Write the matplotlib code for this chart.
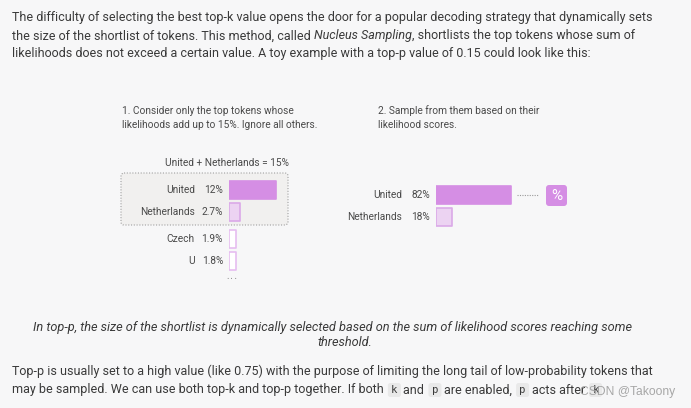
import matplotlib
matplotlib.use("Agg")
import matplotlib.pyplot as plt
from matplotlib.patches import FancyBboxPatch

W, H = 691, 408

# data
step1_tokens = ["United", "Netherlands", "Czech", "U"]
step1_probs = [12, 2.7, 1.9, 1.8]
step1_labels = ["12%", "2.7%", "1.9%", "1.8%"]
step2_tokens = ["United", "Netherlands"]
step2_probs = [82, 18]
step2_labels = ["82%", "18%"]
top_p = 15

BG = "#f7f7f8"
TEXT = "#3a3a3a"
SOFT = "#4a4a4a"
PURPLE = "#d58ee4"
LIGHT = "#ecd3f2"
EDGE = "#dba9e8"
SANS = "Roboto"
MONO = "DejaVu Sans Mono"
PANEL = "Roboto"

fig = plt.figure(figsize=(W / 100, H / 100), dpi=100)
fig.patch.set_facecolor(BG)
page = fig.add_axes([0, 0, 1, 1])
page.set_xlim(0, W)
page.set_ylim(H, 0)
page.axis("off")
renderer = fig.canvas.get_renderer()


def text_width(s, **kw):
    t = page.text(0, 0, s, **kw)
    w = t.get_window_extent(renderer).width
    t.remove()
    return w


def run_width(s, **kw):
    # measure with a sentinel so trailing spaces count
    return text_width(s + "|", **kw) - text_width("|", **kw)


def fit(s, target, **kw):
    return 10 * target / text_width(s, fontsize=10, **kw)


def draw_runs(x, y, runs, size, color=TEXT):
    for s, kind in runs:
        if kind == "code":
            cw = 15
            page.add_patch(FancyBboxPatch((x + 1, y - 7), cw - 2, 14,
                                          boxstyle="round,pad=0,rounding_size=2.5",
                                          fc="#e9e9e9", ec="none"))
            page.text(x + cw / 2, y, s, family=MONO, fontsize=size * 0.85, color=TEXT,
                      ha="center", va="center")
            x += cw + run_width(" ", family=SANS, fontsize=size) * 0.5
            continue
        style = "italic" if kind == "i" else "normal"
        page.text(x, y, s, family=SANS, style=style, fontsize=size, color=color,
                  ha="left", va="center")
        x += run_width(s, family=SANS, style=style, fontsize=size)
    return x


# top paragraph
line1 = "The difficulty of selecting the best top-k value opens the door for a popular decoding strategy that dynamically sets"
body = fit(line1, 635, family=SANS)
draw_runs(12, 18, [(line1, "n")], body)
draw_runs(12, 36, [("the size of the shortlist of tokens. This method, called ", "n"),
                   ("Nucleus Sampling", "i"),
                   (", shortlists the top tokens whose sum of", "n")], body)
draw_runs(12, 53, [("likelihoods does not exceed a certain value. A toy example with a top-p value of 0.15 could look like this:", "n")], body)

# panel headings
head = fit("likelihoods add up to 15%. Ignore all others.", 196, family=PANEL)
page.text(122, 111, "1. Consider only the top tokens whose", family=PANEL, fontsize=head, color=SOFT, va="center")
page.text(122, 125, f"likelihoods add up to {top_p}%. Ignore all others.", family=PANEL, fontsize=head, color=SOFT, va="center")
page.text(378, 111, "2. Sample from them based on their", family=PANEL, fontsize=head, color=SOFT, va="center")
page.text(378, 125, "likelihood scores.", family=PANEL, fontsize=head, color=SOFT, va="center")

lab = fit("Netherlands", 55, family=PANEL)
page.text(227, 163, f"{step1_tokens[0]} + {step1_tokens[1]} = {top_p}%", family=PANEL,
          fontsize=lab, color=SOFT, ha="center", va="center")

# dotted box around the kept tokens
page.add_patch(FancyBboxPatch((121, 173), 167, 52, boxstyle="round,pad=0,rounding_size=3",
                              fc="#f1f0ef", ec="#a0a0a0", lw=0.8, ls=(0, (1, 1.5))))

# step 1 bars
rows1 = [190, 212, 239, 261]
ax1 = fig.add_axes([229 / W, 1 - 280 / H, 70 / W, 105 / H])
ax1.set_xlim(0, 70 / 3.9)
ax1.set_ylim(280, 175)
ax1.axis("off")
fills1 = [PURPLE, LIGHT, "white", "white"]
edges1 = [PURPLE, EDGE, "#e6bdf0", "#e6bdf0"]
bars = ax1.barh(rows1, step1_probs, height=18, left=0, color=fills1, edgecolor=edges1, linewidth=1.2)
for b in bars:
    b.set_joinstyle("round")
for tok, pct, y in zip(step1_tokens, step1_labels, rows1):
    page.text(195, y, tok, family=PANEL, fontsize=lab, color=SOFT, ha="right", va="center")
    page.text(223, y, pct, family=PANEL, fontsize=lab, color=SOFT, ha="right", va="center")
page.text(232, 277, "...", family=MONO, fontsize=lab * 0.7, color="#888888", ha="center", va="center")

# step 2 bars
rows2 = [195, 217]
ax2 = fig.add_axes([436 / W, 1 - 235 / H, 100 / W, 55 / H])
ax2.set_xlim(0, 100 / 0.915)
ax2.set_ylim(235, 180)
ax2.axis("off")
bars = ax2.barh(rows2, step2_probs, height=18, left=0, color=[PURPLE, LIGHT],
                edgecolor=[PURPLE, EDGE], linewidth=1.2)
for b in bars:
    b.set_joinstyle("round")
for tok, pct, y in zip(step2_tokens, step2_labels, rows2):
    page.text(402, y, tok, family=PANEL, fontsize=lab, color=SOFT, ha="right", va="center")
    page.text(430, y, pct, family=PANEL, fontsize=lab, color=SOFT, ha="right", va="center")

page.plot([517, 538], [195, 195], ls=(0, (1, 1.2)), color="#9a9a9a", lw=0.8)
page.add_patch(FancyBboxPatch((546, 185), 21, 21, boxstyle="round,pad=0,rounding_size=3",
                              fc=PURPLE, ec="none"))
page.text(556.5, 196, "%", family=PANEL, fontsize=11, color="white", ha="center", va="center")

# caption
cap1 = "In top-p, the size of the shortlist is dynamically selected based on the sum of likelihood scores reaching some"
cap = fit(cap1, 601, family=SANS, style="italic")
page.text(33, 327, cap1, family=SANS, style="italic", fontsize=cap, color=TEXT, va="center")
page.text(345, 343, "threshold.", family=SANS, style="italic", fontsize=cap, color=TEXT,
          ha="center", va="center")

# bottom paragraph
bot1 = "Top-p is usually set to a high value (like 0.75) with the purpose of limiting the long tail of low-probability tokens that"
draw_runs(12, 371, [(bot1, "n")], body)
draw_runs(12, 390, [("may be sampled. We can use both top-k and top-p together. If both ", "n"),
                    ("k", "code"), ("and ", "n"), ("p", "code"), ("are enabled, ", "n"),
                    ("p", "code"), ("acts after ", "n"), ("k", "code")], body)

# watermark
wm = "CSDN @Takoony"
page.text(580, 392, wm, family="Liberation Sans", fontsize=fit(wm, 95, family="Liberation Sans"),
          color="#a3a3a3", va="center", alpha=0.95)

fig.savefig("out.png", dpi=100, facecolor=BG)
